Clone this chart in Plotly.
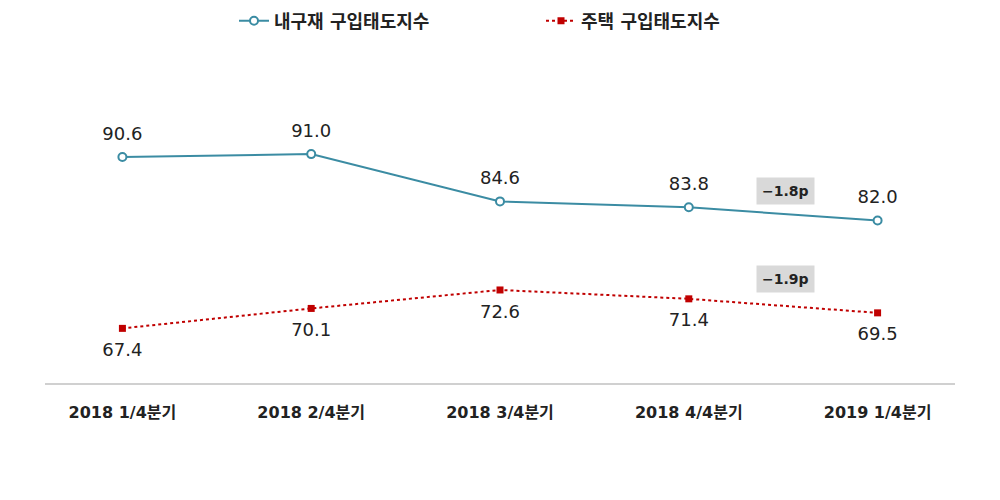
import plotly.graph_objects as go

categories = ["2018 1/4분기", "2018 2/4분기", "2018 3/4분기", "2018 4/4분기", "2019 1/4분기"]
durable = [90.6, 91.0, 84.6, 83.8, 82.0]
housing = [67.4, 70.1, 72.6, 71.4, 69.5]
name_durable = "내구재 구입태도지수"
name_housing = "주택 구입태도지수"
change_labels = ["−1.8p", "−1.9p"]

FONT = "DejaVu Sans, Noto Sans CJK KR"
fig = go.Figure()
fig.add_trace(go.Scatter(
    x=categories, y=durable, name=name_durable,
    mode="lines+markers",
    line=dict(color="#3b8ca3", width=2),
    marker=dict(symbol="circle", size=8, color="white", line=dict(color="#3b8ca3", width=2)),
))
fig.add_trace(go.Scatter(
    x=categories, y=housing, name=name_housing,
    mode="lines+markers",
    line=dict(color="#c00000", width=2, dash="dot"),
    marker=dict(symbol="square", size=7, color="#c00000"),
))
# value labels (invisible larger markers to push the text further from points)
fig.add_trace(go.Scatter(
    x=categories, y=durable, mode="markers+text", showlegend=False, hoverinfo="skip",
    marker=dict(size=19, color="rgba(0,0,0,0)"),
    text=[f"{v:.1f}" for v in durable], textposition="top center",
    textfont=dict(size=18, color="#222222", family=FONT),
))
fig.add_trace(go.Scatter(
    x=categories, y=housing, mode="markers+text", showlegend=False, hoverinfo="skip",
    marker=dict(size=21, color="rgba(0,0,0,0)"),
    text=[f"{v:.1f}" for v in housing], textposition="bottom center",
    textfont=dict(size=18, color="#222222", family=FONT),
))

fig.add_annotation(x=3.51, y=86.0, xref="x", yref="y", text=change_labels[0], showarrow=False,
                   bgcolor="#d9d9d9", font=dict(size=14, color="#222222", family=FONT, weight="bold"),
                   borderpad=5)
fig.add_annotation(x=3.51, y=74.1, xref="x", yref="y", text=change_labels[1], showarrow=False,
                   bgcolor="#d9d9d9", font=dict(size=14, color="#222222", family=FONT, weight="bold"),
                   borderpad=5)

fig.update_layout(
    width=1000, height=500,
    margin=dict(l=45, r=45, t=50, b=117),
    plot_bgcolor="white", paper_bgcolor="white",
    font=dict(family=FONT, color="#222222"),
    legend=dict(orientation="h", x=0.234, xanchor="left", xref="container",
                y=0.995, yanchor="top", yref="container", entrywidth=262,
                font=dict(size=18, color="#222222", family=FONT, weight="bold")),
    xaxis=dict(type="category", range=[-0.41, 4.41], showgrid=False, zeroline=False,
               showline=True, linecolor="#d0d0d0", linewidth=2, ticks="",
               tickfont=dict(size=16, color="#222222", family=FONT, weight="bold"), ticklabelstandoff=14),
    yaxis=dict(range=[60, 104.9], visible=False),
)
fig.write_html("out.html")
